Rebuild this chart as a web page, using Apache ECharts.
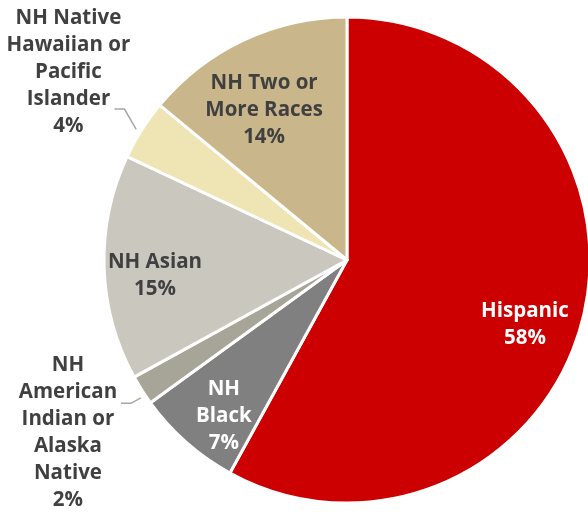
<!DOCTYPE html>
<html><head><meta charset="utf-8">
<script src="https://cdn.jsdelivr.net/npm/echarts@6/dist/echarts.min.js"></script>
<style>html,body{margin:0;padding:0;background:#fff}#c{width:588px;height:514px}</style>
</head><body><div id="c"></div>
<script>
var categories = ['Hispanic', 'NH\nBlack', 'NH\nAmerican\nIndian or\nAlaska\nNative', 'NH Asian', 'NH Native\nHawaiian or\nPacific\nIslander', 'NH Two or\nMore Races'];
var values = [58, 7, 2, 15, 4, 14];

var colors = ['#CC0000', '#808080', '#A7A598', '#CAC7BF', '#EFE4B3', '#C9B68A'];
var labelColors = ['#ffffff', '#ffffff', '#404040', '#404040', '#404040', '#404040'];
// label placement: [bearing in degrees clockwise from 12 o'clock, distance from centre in px]
var labelPolar = [[110.1, 189.5], [218.3, 198.7], [238.3, 328], [265.2, 192.7], [304, 336], [331, 171]];
// leader lines for outside labels: [edge bearing, attach dx, attach dy (relative to label centre)]
var leader = [null, null, [236.2, 53, -29], null, [301.8, 46, 37], null];

var CX = 347, CY = 260, R = 243;
function polar(deg, r){ var a = deg * Math.PI / 180; return [CX + Math.sin(a) * r, CY - Math.cos(a) * r]; }

var chart = echarts.init(document.getElementById('c'));
chart.setOption({
  animation: false,
  series: [{
    type: 'pie',
    center: [CX, CY],
    radius: [0, R],
    startAngle: 90,
    clockwise: true,
    data: categories.map(function(n, i){
      return {
        name: n, value: values[i],
        itemStyle: { color: colors[i] },
        label: { position: leader[i] ? 'outside' : 'inside', color: labelColors[i] },
        labelLine: { show: !!leader[i], smooth: false, lineStyle: { color: '#A6A6A6', width: 1.5 } }
      };
    }),
    itemStyle: { borderColor: '#ffffff', borderWidth: 3 },
    label: {
      show: true,
      formatter: function(p){ return p.name + '\n' + p.value + '%'; },
      fontFamily: 'Open Sans',
      fontWeight: 'bold',
      fontSize: 20.5,
      lineHeight: 27,
      align: 'center',
      overflow: 'none',
      width: 200,
      edgeDistance: 0
    },
    labelLayout: function(p){
      var i = p.dataIndex;
      var pos = polar(labelPolar[i][0], labelPolar[i][1]);
      var out = { x: pos[0], y: pos[1], align: 'center', verticalAlign: 'middle' };
      if (leader[i]) {
        var l = leader[i];
        var p2 = [pos[0] + l[1], pos[1] + l[2]];
        var p1 = [p2[0] + 10, p2[1]];
        var p0 = polar(l[0], R + 5);
        out.labelLinePoints = [p0, p1, p2];
      }
      return out;
    }
  }]
});
</script></body></html>
